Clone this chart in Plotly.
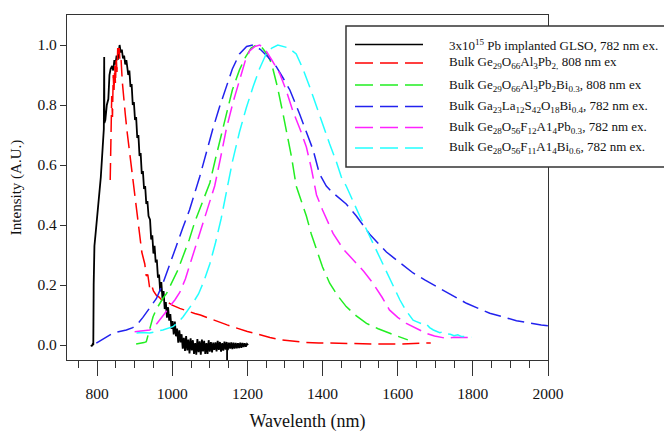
import plotly.graph_objects as go

# ---------------- data ----------------
black_x = [784, 786, 788, 790, 791, 793, 796, 800, 805, 810, 815, 818, 819, 819.5, 822, 826, 830, 833, 836,
           840, 843, 846, 849, 852, 855, 858, 860, 863, 866, 869, 872, 875, 878, 880, 883, 886, 889, 892, 895, 898,
           901, 904, 907, 910, 913, 916, 919, 922, 925, 928, 931, 934, 937,
           941, 944, 947, 950, 953, 956, 959, 962, 965, 968, 971, 974, 977, 980, 983, 986, 989, 992, 995, 998,
           1001, 1004, 1007, 1010, 1013, 1016, 1019, 1022, 1025, 1028, 1031, 1034, 1037, 1040, 1043, 1046, 1049,
           1052, 1055, 1058, 1061, 1064, 1067, 1070, 1073, 1076, 1079, 1082, 1085, 1088, 1091, 1094, 1097, 1100,
           1103, 1106, 1109, 1112, 1115, 1118, 1121, 1124, 1127, 1130, 1133, 1136, 1139, 1142, 1145, 1148, 1151,
           1154, 1157, 1160, 1163, 1166, 1169, 1172, 1175, 1178, 1181, 1184, 1187, 1190, 1193, 1196, 1199, 1202,
           None, 1146, 1146]
black_y = [0.0, -0.004, 0.002, 0.0, 0.2, 0.33, 0.37, 0.42, 0.48, 0.56, 0.66, 0.72, 0.96, 0.74, 0.75, 0.80, 0.82, 0.90, 0.92,
           0.93, 0.915, 0.95, 0.935, 0.965, 0.95, 0.985, 1.0, 0.975, 0.985, 0.955, 0.965, 0.935, 0.95, 0.93, 0.90, 0.915, 0.86, 0.87, 0.80, 0.81,
           0.75, 0.76, 0.69, 0.70, 0.63, 0.64, 0.57, 0.58, 0.52, 0.53, 0.47, 0.48, 0.43,
           0.418, 0.352, 0.366, 0.305, 0.331, 0.275, 0.285, 0.224, 0.235, 0.179, 0.210, 0.155, 0.180, 0.120, 0.143, 0.091, 0.126, 0.081, 0.103, 0.054,
           0.080, 0.035, 0.078, 0.029, 0.055, 0.008, 0.049, 0.009, 0.036, -0.012, 0.024, -0.020, 0.030, -0.018, 0.018, -0.028, 0.022,
           -0.018, 0.016, -0.030, 0.006, -0.032, 0.020, -0.024, 0.012, -0.032, 0.018, -0.021, 0.014, -0.030, 0.006, -0.030, 0.016, -0.022,
           0.010, -0.025, 0.008, -0.016, 0.009, -0.021, 0.014, -0.016, 0.010, -0.022, 0.006, -0.019, 0.011, -0.015, 0.010, -0.017, 0.008,
           -0.012, 0.009, -0.014, 0.008, -0.012, 0.007, -0.011, 0.006, -0.010, 0.008, -0.009, 0.007, -0.007, 0.006, -0.006, 0.004, 0.0,
           None, 0.0, -0.05]

red_x = [835, 837, 839, 841, 843, 845, 847, 849, 851, 853, 855, 857, 859, 861, 864, 867, 870, 875, 880, 884, 888, 893,
         898, 902, 906, 911, 915, 919, 923, 927, 931, 935, 940, 945, 950, 958, 965, 972, 980, 990, 1000, 1020, 1040,
         1060, 1075, 1095, 1110, 1130, 1146, 1165, 1180, 1200, 1217, 1240, 1260, 1288, 1320, 1350, 1390, 1421, 1460,
         1500, 1555, 1600, 1640, 1670, 1688]
red_y = [0.55, 0.72, 0.83, 0.76, 0.90, 0.84, 0.93, 0.87, 0.96, 0.91, 0.99, 0.96, 0.99, 0.94, 0.95, 0.88, 0.83, 0.77, 0.71, 0.67, 0.63, 0.57,
         0.52, 0.47, 0.43, 0.38, 0.35, 0.31, 0.29, 0.27, 0.23, 0.235, 0.19, 0.20, 0.18, 0.165, 0.16, 0.15, 0.15, 0.14, 0.133, 0.122, 0.113,
         0.105, 0.10, 0.09, 0.083, 0.074, 0.067, 0.059, 0.052, 0.045, 0.04, 0.031, 0.025, 0.017, 0.012, 0.009, 0.007, 0.006, 0.005,
         0.004, 0.003, 0.003, 0.004, 0.005, 0.007]

green_x = [904, 915, 925, 931, 935, 940, 949, 958, 967, 975, 985, 1000, 1015, 1030, 1045, 1060, 1075, 1088, 1100, 1115,
           1130, 1144, 1160, 1179, 1195, 1210, 1224, 1240, 1252, 1264, 1280, 1295, 1306, 1317, 1330, 1343, 1357, 1370,
           1384, 1400, 1419, 1440, 1463, 1490, 1517, 1548, 1579, 1605, 1627]
green_y = [0.003, 0.005, 0.008, 0.011, 0.03, 0.05, 0.094, 0.12, 0.139, 0.155, 0.172, 0.21, 0.25, 0.30, 0.35, 0.41, 0.46, 0.50, 0.54, 0.62,
           0.70, 0.77, 0.85, 0.917, 0.96, 0.99, 1.0, 0.99, 0.97, 0.94, 0.86, 0.77, 0.70, 0.63, 0.53, 0.48, 0.43, 0.37,
           0.317, 0.26, 0.206, 0.165, 0.128, 0.097, 0.072, 0.054, 0.039, 0.028, 0.017]

blue_x = [798, 820, 842, 860, 878, 895, 909, 922, 936, 958, 975, 993, 1011, 1028, 1046, 1073, 1090, 1108, 1125, 1144,
          1160, 1179, 1198, 1215, 1235, 1255, 1277, 1295, 1313, 1339, 1366, 1375, 1392, 1410, 1425, 1445, 1463, 1490,
          1525, 1570, 1610, 1641, 1672, 1720, 1783, 1845, 1916, 1982, 2000]
blue_y = [0.006, 0.022, 0.039, 0.045, 0.05, 0.058, 0.072, 0.092, 0.117, 0.155, 0.205, 0.265, 0.33, 0.39, 0.45, 0.56, 0.64, 0.72, 0.79, 0.86,
          0.92, 0.97, 0.995, 1.0, 0.985, 0.96, 0.928, 0.89, 0.85, 0.77, 0.68, 0.65, 0.57, 0.53, 0.51, 0.49, 0.47, 0.43,
          0.37, 0.31, 0.27, 0.24, 0.217, 0.183, 0.139, 0.106, 0.081, 0.067, 0.064]

magenta_x = [900, 920, 940, 955, 967, 980, 993, 1007, 1020, 1035, 1050, 1065, 1080, 1097, 1113, 1128, 1144, 1162, 1179,
             1195, 1206, 1220, 1233, 1250, 1265, 1286, 1303, 1321, 1340, 1357, 1370, 1384, 1400, 1428, 1455, 1481,
             1510, 1534, 1558, 1578, 1600, 1623, 1650, 1676, 1698, 1730, 1750, 1774, 1800]
magenta_y = [0.044, 0.046, 0.05, 0.065, 0.083, 0.105, 0.128, 0.15, 0.175, 0.22, 0.28, 0.34, 0.40, 0.46, 0.53, 0.62, 0.72, 0.81, 0.885,
             0.95, 0.98, 0.995, 1.0, 0.98, 0.95, 0.905, 0.85, 0.78, 0.72, 0.66, 0.59, 0.50, 0.45, 0.372, 0.32, 0.283,
             0.245, 0.206, 0.16, 0.117, 0.092, 0.072, 0.055, 0.039, 0.03, 0.022, 0.026, 0.026, 0.025]

cyan_x = [905, 920, 940, 958, 975, 1002, 1015, 1029, 1042, 1055, 1070, 1085, 1100, 1115, 1130, 1144, 1160, 1179, 1197,
          1215, 1232, 1250, 1265, 1281, 1295, 1310, 1330, 1348, 1366, 1384, 1401, 1419, 1437, 1450, 1463, 1480, 1499,
          1517, 1534, 1552, 1570, 1588, 1606, 1622, 1641, 1650, 1665, 1675, 1685, 1695, 1705, 1712, 1720, 1730, 1740,
          1750, 1760, 1770, 1780, 1796]
cyan_y = [0.04, 0.042, 0.04, 0.045, 0.05, 0.061, 0.075, 0.094, 0.115, 0.14, 0.17, 0.215, 0.27, 0.34, 0.42, 0.51, 0.61, 0.71, 0.79,
          0.86, 0.92, 0.97, 0.99, 1.0, 0.995, 0.99, 0.97, 0.92, 0.86, 0.795, 0.73, 0.67, 0.61, 0.56, 0.53, 0.48, 0.43,
          0.385, 0.34, 0.29, 0.24, 0.195, 0.15, 0.115, 0.083, 0.078, 0.07, 0.072, 0.058, 0.05, 0.046, 0.041, 0.044, 0.037, 0.036,
          0.031, 0.034, 0.028, 0.029, 0.026]

x_ticks = [800, 1000, 1200, 1400, 1600, 1800, 2000]
y_ticks = [0.0, 0.2, 0.4, 0.6, 0.8, 1.0]

legend_labels = [
    "3x10<sup>15</sup> Pb implanted GLSO, 782 nm ex.",
    "Bulk Ge<sub>29</sub>O<sub>66</sub>Al<sub>3</sub>Pb<sub>2,</sub> 808 nm ex",
    "Bulk Ge<sub>29</sub>O<sub>66</sub>Al<sub>3</sub>Pb<sub>2</sub>Bi<sub>0.3</sub>, 808 nm ex",
    "Bulk Ga<sub>23</sub>La<sub>12</sub>S<sub>42</sub>O<sub>18</sub>Bi<sub>0.4</sub>, 782 nm ex.",
    "Bulk Ge<sub>28</sub>O<sub>56</sub>F<sub>12</sub>A1<sub>4</sub>Pb<sub>0.3</sub>, 782 nm ex.",
    "Bulk Ge<sub>28</sub>O<sub>56</sub>F<sub>11</sub>A1<sub>4</sub>Bi<sub>0.6</sub>, 782 nm ex.",
]
colors = ["#000000", "#ff0000", "#22ee22", "#2222ee", "#ff22ff", "#22ffff"]

# ---------------- figure ----------------
W, H = 664, 433
ML, MR, MT, MB = 67, 116, 15, 73
PW, PH = W - ML - MR, H - MT - MB
SERIF = "Liberation Serif, Times New Roman, serif"
DASH = "17px,7px"

series = [(black_x, black_y), (red_x, red_y), (green_x, green_y), (blue_x, blue_y),
          (magenta_x, magenta_y), (cyan_x, cyan_y)]

fig = go.Figure()
for i, ((xs, ys), c, name) in enumerate(zip(series, colors, legend_labels)):
    fig.add_trace(go.Scatter(
        x=xs, y=ys, mode="lines", name=name,
        line=dict(color=c, width=1.8 if i == 0 else 1.5, dash="solid" if i == 0 else DASH),
        connectgaps=False, showlegend=False,
    ))

def px_x(p):  # pixel -> paper x
    return (p - ML) / PW

def px_y(p):  # pixel -> paper y
    return (H - MB - p) / PH

shapes = [dict(type="rect", xref="paper", yref="paper",
               x0=px_x(346), x1=px_x(720), y0=px_y(167), y1=px_y(26),
               fillcolor="white", line=dict(color="#333333", width=1.5), layer="above")]
annotations = []
row_y = [44.5, 63, 85, 106.5, 127.5, 148]
for i, (c, lab, yy) in enumerate(zip(colors, legend_labels, row_y)):
    shapes.append(dict(type="line", xref="paper", yref="paper",
                       x0=px_x(355), x1=px_x(423), y0=px_y(yy), y1=px_y(yy),
                       line=dict(color=c, width=1.6 if i == 0 else 1.5,
                                 dash="solid" if i == 0 else "18px,7px"),
                       layer="above"))
    annotations.append(dict(xref="paper", yref="paper", x=px_x(447), y=px_y(yy),
                            xanchor="left", yanchor="middle", text=lab, showarrow=False,
                            font=dict(family=SERIF, size=13, color="#111")))

fig.update_layout(
    width=W, height=H, margin=dict(l=ML, r=MR, t=MT, b=MB),
    paper_bgcolor="white", plot_bgcolor="white",
    font=dict(family=SERIF, color="#111"),
    shapes=shapes, annotations=annotations, showlegend=False,
)
fig.update_xaxes(
    range=[720, 2000], tickvals=x_ticks, ticks="outside", ticklen=15, tickwidth=1.2,
    tickcolor="#333", showline=True, linecolor="#333", linewidth=1.2, mirror=True,
    showgrid=False, zeroline=False, tickfont=dict(family=SERIF, size=15.5, color="#111"),
    ticklabelstandoff=4,
    minor=dict(dtick=50, tick0=0, ticks="outside", ticklen=7, tickwidth=1.2, tickcolor="#333", showgrid=False),
    title=dict(text="Wavelenth (nm)", font=dict(family=SERIF, size=18, color="#111"), standoff=13),
    automargin=False,
)
fig.update_yaxes(
    range=[-0.05, 1.1], tickvals=y_ticks, tickformat=".1f", ticks="outside", ticklen=6, tickwidth=1.2,
    tickcolor="#333", showline=True, linecolor="#333", linewidth=1.2, mirror=True,
    showgrid=False, zeroline=False, tickfont=dict(family=SERIF, size=15.5, color="#111"),
    title=dict(text="Intensity (A.U.)", font=dict(family=SERIF, size=15, color="#111"), standoff=12),
    automargin=False,
)

fig.write_html("out.html")
